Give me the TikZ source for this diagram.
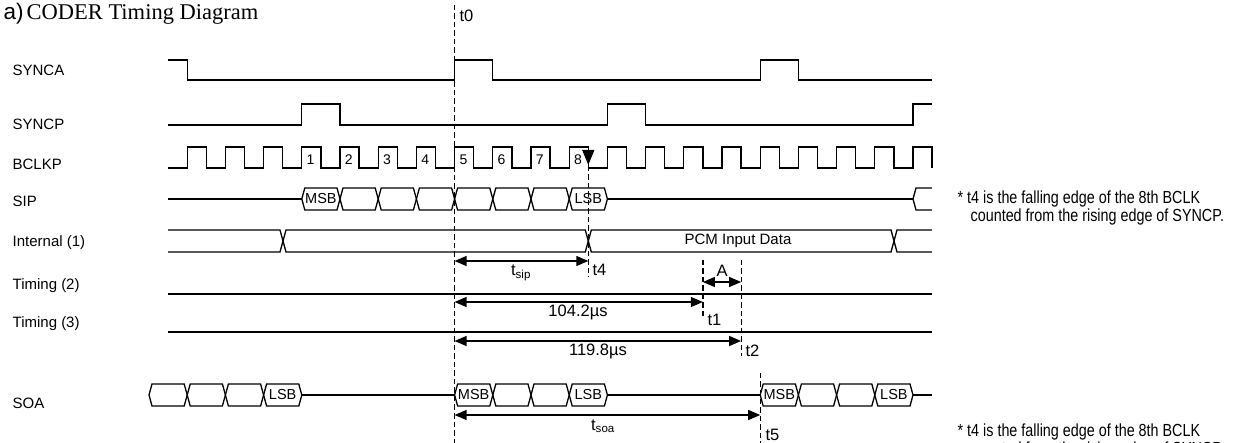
\documentclass[tikz,border=0pt]{standalone}
\usepackage{fontspec}
\setmainfont{Liberation Sans}
\newfontfamily\timesfont{Liberation Serif}
\newfontfamily\narrowfont{Liberation Sans}[FakeStretch=0.82]
\usetikzlibrary{arrows.meta}

\begin{document}
\begin{tikzpicture}[x=1pt,y=-1pt,line width=1.3pt,line join=miter,
  lbl/.style={inner sep=0pt,anchor=base west,font=\fontsize{15}{18}\selectfont},
  celltext/.style={inner sep=0pt,font=\fontsize{14.5}{17}\selectfont},
  tmark/.style={inner sep=0pt,anchor=base west,font=\fontsize{16.5}{19}\selectfont},
  note/.style={inner sep=0pt,anchor=base west,font=\narrowfont\fontsize{17.5}{21}\selectfont},
  guide/.style={line width=1.2pt,dash pattern=on 5.5pt off 3pt},
  dim/.style={line width=1.3pt,{Triangle[length=12pt,width=10pt]}-{Triangle[length=12pt,width=10pt]}}]
  \useasboundingbox (0,0) rectangle (1234,443);

  % title and signal names
  \node[inner sep=0pt,anchor=base west,font=\fontsize{22.5}{26}\selectfont] (title) at (3,20)
    {a)\hspace{3pt}{\timesfont CODER Timing Diagram}};
  \node[lbl] (synca) at (12,76) {SYNCA};
  \node[lbl] (syncp) at (12,130) {SYNCP};
  \node[lbl] (bclkp) at (12,170) {BCLKP};
  \node[lbl] (sip) at (12,207) {SIP};
  \node[lbl] (internal) at (12,247) {Internal (1)};
  \node[lbl] (timingb) at (12,290) {Timing (2)};
  \node[lbl] (timingc) at (12,328) {Timing (3)};
  \node[lbl] (soa) at (12,408) {SOA};

  % SYNCA / SYNCP
  \draw (168,60) -- (187.2,60) -- (187.2,80) -- (454.6,80) -- (454.6,60) -- (492.8,60)
    -- (492.8,80) -- (760.2,80) -- (760.2,60) -- (798.4,60) -- (798.4,80) -- (932,80);
  \draw (168,125) -- (301.8,125) -- (301.8,104) -- (340,104) -- (340,125) -- (607.4,125)
    -- (607.4,104) -- (645.6,104) -- (645.6,125) -- (913,125) -- (913,104) -- (932,104);

  % BCLKP
  \draw (168,168) \foreach \k in {0,...,19} {
    -- ({187.2+38.2*\k},168) -- ++(0,-21) -- ++(19.1,0) -- ++(0,21)};
  \foreach \k/\n in {3/1,4/2,5/3,6/4,7/5,8/6,9/7,10/8}
    \node[celltext,font=\fontsize{14}{16}\selectfont] (clk\n) at ({196+38.2*\k},159.5) {\n};
  \draw[-{Triangle[length=15pt,width=12pt]}] (588.3,150) -- (588.3,165);

  % SIP
  \draw (168,199) -- (301.8,199);
  \foreach \k in {3,...,10}
    \draw ({187.2+38.2*\k},199) -- ++(3,-11) -- ++(32.2,0) -- ++(3,11) -- ++(-3,11) -- ++(-32.2,0) -- cycle;
  \node[celltext] (sipmsb) at (320.9,199) {MSB};
  \node[celltext] (siplsb) at (588.3,199) {LSB};
  \draw (607.4,199) -- (913,199);
  \draw (932,188) -- (916,188) -- (913,199) -- (916,210) -- (932,210);

  % Internal (1)
  \draw (168,230) -- (280,230) -- (286,252) -- (585.3,252) -- (591.3,230) -- (891,230) -- (897,252) -- (932,252);
  \draw (168,252) -- (280,252) -- (286,230) -- (585.3,230) -- (591.3,252) -- (891,252) -- (897,230) -- (932,230);
  \node[celltext,font=\fontsize{15}{18}\selectfont] (pcm) at (738,241) {PCM Input Data};

  % Timing (2), Timing (3)
  \draw (168,294) -- (932,294);
  \draw (168,332) -- (932,332);

  % SOA
  \foreach \a in {149,187.2,225.4,263.6,454.6,492.8,531,569.2,760.2,798.4,836.6,874.8}
    \draw (\a,395) -- ++(3,-11) -- ++(32.2,0) -- ++(3,11) -- ++(-3,11) -- ++(-32.2,0) -- cycle;
  \draw (301.8,395) -- (454.6,395);
  \draw (607.4,395) -- (760.2,395);
  \draw (913,395) -- (932,395);
  \node[celltext] (soalsba) at (282.7,395) {LSB};
  \node[celltext] (soamsbb) at (473.7,395) {MSB};
  \node[celltext] (soalsbb) at (588.3,395) {LSB};
  \node[celltext] (soamsbc) at (779.3,395) {MSB};
  \node[celltext] (soalsbc) at (893.9,395) {LSB};

  % time marks
  \coordinate (t0a) at (454.6,5);    \coordinate (t0b) at (454.6,443);
  \coordinate (t4a) at (588.3,166);  \coordinate (t4b) at (588.3,277);
  \coordinate (t1a) at (702.9,260);  \coordinate (t1b) at (702.9,318);
  \coordinate (t2a) at (741.1,260);  \coordinate (t2b) at (741.1,356);
  \coordinate (t5a) at (760.2,373);  \coordinate (t5b) at (760.2,443);
  \draw[guide] (t0a) -- (t0b);
  \draw[guide] (t4a) -- (t4b);
  \draw[guide] (t1a) -- (t1b);
  \draw[guide] (t2a) -- (t2b);
  \draw[guide] (t5a) -- (t5b);
  \node[tmark] (lt0) at (459,22) {t0};
  \node[tmark] (lt4) at (592,276) {t4};
  \node[tmark] (lt1) at (707,326) {t1};
  \node[tmark] (lt2) at (745,357) {t2};
  \node[tmark] (lt5) at (765,440) {t5};

  % intervals
  \coordinate (ysip) at (0,261);
  \coordinate (ya) at (0,282);
  \coordinate (yone) at (0,302);
  \coordinate (ytwo) at (0,341);
  \coordinate (ysoa) at (0,415);
  \draw[dim] (t0a |- ysip) -- (t4a |- ysip);
  \draw[dim] (t1a |- ya) -- (t2a |- ya);
  \draw[dim] (t0a |- yone) -- (t1a |- yone);
  \draw[dim] (t0a |- ytwo) -- (t2a |- ytwo);
  \draw[dim] (t0a |- ysoa) -- (t5a |- ysoa);
  \node[tmark,anchor=base] (tsip) at (521,276) {t\textsubscript{sip}};
  \node[tmark,anchor=base] (la) at (722,277) {A};
  \node[tmark,anchor=base] (lone) at (578,317) {104.2µs};
  \node[tmark,anchor=base] (ltwo) at (598,356) {119.8µs};
  \node[tmark,anchor=base] (tsoa) at (603,430) {t\textsubscript{soa}};

  % notes
  \node[note] (notea) at (957,204) {* t4 is the falling edge of the 8th BCLK};
  \node[note] (noteb) at (970,222) {counted from the rising edge of SYNCP.};
  \node[note] (notec) at (957,436) {* t4 is the falling edge of the 8th BCLK};
  \node[note] (noted) at (970,454) {counted from the rising edge of SYNCP.};
\end{tikzpicture}
\end{document}
